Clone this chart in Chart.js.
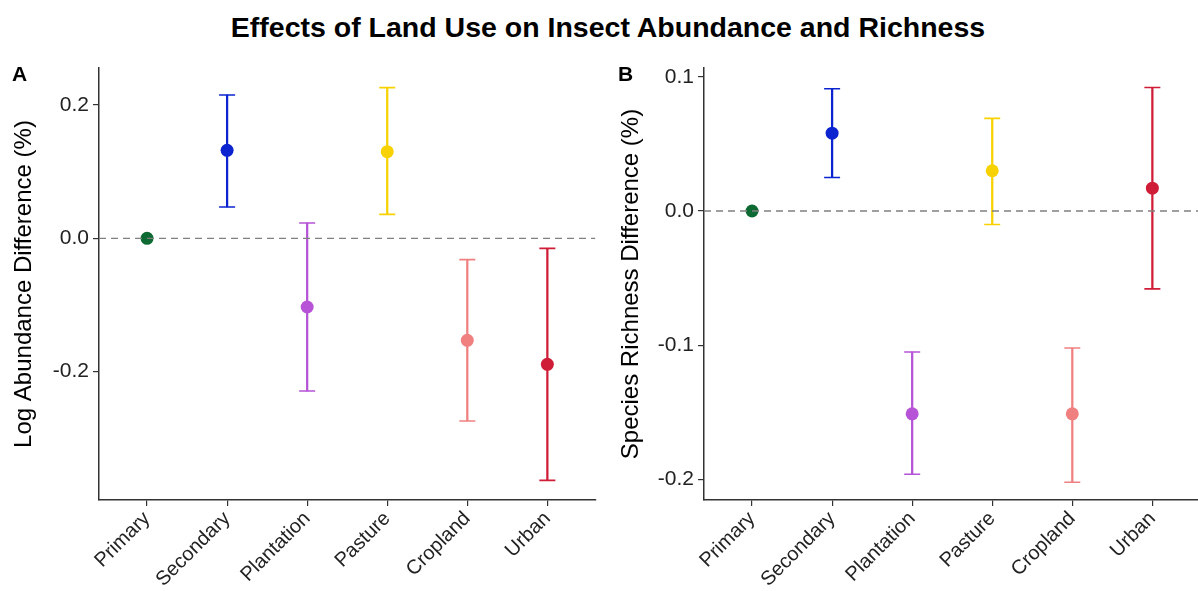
<!DOCTYPE html>
<html>
<head>
<meta charset="utf-8">
<script src="https://cdn.jsdelivr.net/npm/chart.js@4.4.1/dist/chart.umd.min.js"></script>
<style>
  body { margin: 0; width: 1198px; height: 591px; overflow: hidden; background: #fff; position: relative;
         font-family: 'Liberation Sans', Arial, sans-serif; }
  #title { position: absolute; left: 0; width: 1216px; top: 11px; text-align: center;
           font-size: 28.5px; font-weight: bold; color: #000; }
  .tag { position: absolute; top: 62px; font-size: 21px; font-weight: bold; color: #000; }
  .panel { position: absolute; top: 0; height: 591px; }
</style>
</head>
<body>
<div id="title">Effects of Land Use on Insect Abundance and Richness</div>
<div class="panel" style="left:0;width:605px"><canvas id="chartA"></canvas></div>
<div class="panel" style="left:600px;width:610px"><canvas id="chartB"></canvas></div>
<div class="tag" style="left:12px">A</div>
<div class="tag" style="left:618px">B</div>

<script>
// categories and colours
const landUse = ['Primary', 'Secondary', 'Plantation', 'Pasture', 'Cropland', 'Urban'];
const landColors = ['#0d6a32', '#0b24cf', '#b653d6', '#f7d200', '#f08080', '#cf1c37'];

// panel A - log abundance difference
const abundMean  = [0, 0.132, -0.103, 0.130, -0.153, -0.189];
const abundLower = [0, 0.047, -0.229, 0.036, -0.274, -0.363];
const abundUpper = [0, 0.215,  0.023, 0.226, -0.032, -0.015];
const abundTicks = [-0.2, 0.0, 0.2];

// panel B - species richness difference
const richMean  = [0, 0.058, -0.151, 0.030, -0.151, 0.017];
const richLower = [0, 0.025, -0.196, -0.010, -0.202, -0.058];
const richUpper = [0, 0.091, -0.105, 0.069, -0.102, 0.092];
const richTicks = [-0.2, -0.1, 0.0, 0.1];

Chart.defaults.font.family = "'Liberation Sans', Arial, sans-serif";
Chart.defaults.color = '#222';

function makePanel(id, mean, lower, upper, yMin, yMax, yTicks, yTitle, axisWidth, titlePad) {
    const positions = landUse.map((c, i) => i + 1);

    // caps only where there is an interval
    const capPoints = [];
    const capColors = [];
    positions.forEach((x, i) => {
        if (lower[i] === upper[i]) return;
        capPoints.push({ x: x, y: lower[i] }, { x: x, y: upper[i] });
        capColors.push(landColors[i], landColors[i]);
    });

    new Chart(document.getElementById(id), {
        type: 'scatter',
        data: {
            datasets: [
                {
                    type: 'line',
                    data: [{ x: 0.4, y: 0 }, { x: 6.6, y: 0 }],
                    borderColor: '#808080',
                    borderWidth: 1.4,
                    borderDash: [7, 5],
                    pointRadius: 0,
                    order: 0
                },
                {
                    data: positions.map((x, i) => ({ x: x, y: mean[i] })),
                    backgroundColor: landColors,
                    borderWidth: 0,
                    pointRadius: 6.5,
                    order: 1
                },
                {
                    type: 'bar',
                    data: positions.map((x, i) => ({ x: x, y: [lower[i], upper[i]] })),
                    backgroundColor: landColors,
                    barThickness: 1.6,
                    borderWidth: 0,
                    order: 2
                },
                {
                    data: capPoints,
                    pointStyle: 'line',
                    pointRadius: 8,
                    borderColor: capColors,
                    borderWidth: 1.6,
                    order: 2
                }
            ]
        },
        options: {
            responsive: true,
            maintainAspectRatio: false,
            animation: false,
            layout: { padding: { top: 68, right: 0, left: 0, bottom: 0 } },
            plugins: { legend: { display: false }, tooltip: { enabled: false } },
            scales: {
                x: {
                    type: 'linear',
                    min: 0.4,
                    max: 6.6,
                    offset: false,
                    afterBuildTicks: s => { s.ticks = positions.map(v => ({ value: v })); },
                    afterFit: s => { s.height = 91; },
                    grid: { offset: false, drawOnChartArea: false, drawTicks: true, tickLength: 6, color: '#333', lineWidth: 1.2 },
                    border: { display: true, color: '#333', width: 1.5 },
                    ticks: {
                        autoSkip: false,
                        maxRotation: 45,
                        minRotation: 45,
                        padding: 1,
                        color: '#222',
                        font: { size: 20 },
                        callback: v => landUse[v - 1]
                    }
                },
                y: {
                    type: 'linear',
                    min: yMin,
                    max: yMax,
                    afterBuildTicks: s => { s.ticks = yTicks.map(v => ({ value: v })); },
                    afterFit: s => { s.width = axisWidth; },
                    grid: { drawOnChartArea: false, drawTicks: true, tickLength: 6, color: '#333', lineWidth: 1.2 },
                    border: { display: true, color: '#333', width: 1.5 },
                    ticks: {
                        padding: 4,
                        color: '#222',
                        font: { size: 21 },
                        callback: v => v.toFixed(1)
                    },
                    title: {
                        display: true,
                        text: yTitle,
                        color: '#000',
                        font: { size: 24 },
                        padding: { top: titlePad, bottom: 0 }
                    }
                }
            }
        }
    });
}

makePanel('chartA', abundMean, abundLower, abundUpper, -0.3925, 0.2555, abundTicks,
          'Log Abundance Difference (%)', 99, 10);
makePanel('chartB', richMean, richLower, richUpper, -0.2152, 0.1065, richTicks,
          'Species Richness Difference (%)', 104, 17);
</script>
</body>
</html>
